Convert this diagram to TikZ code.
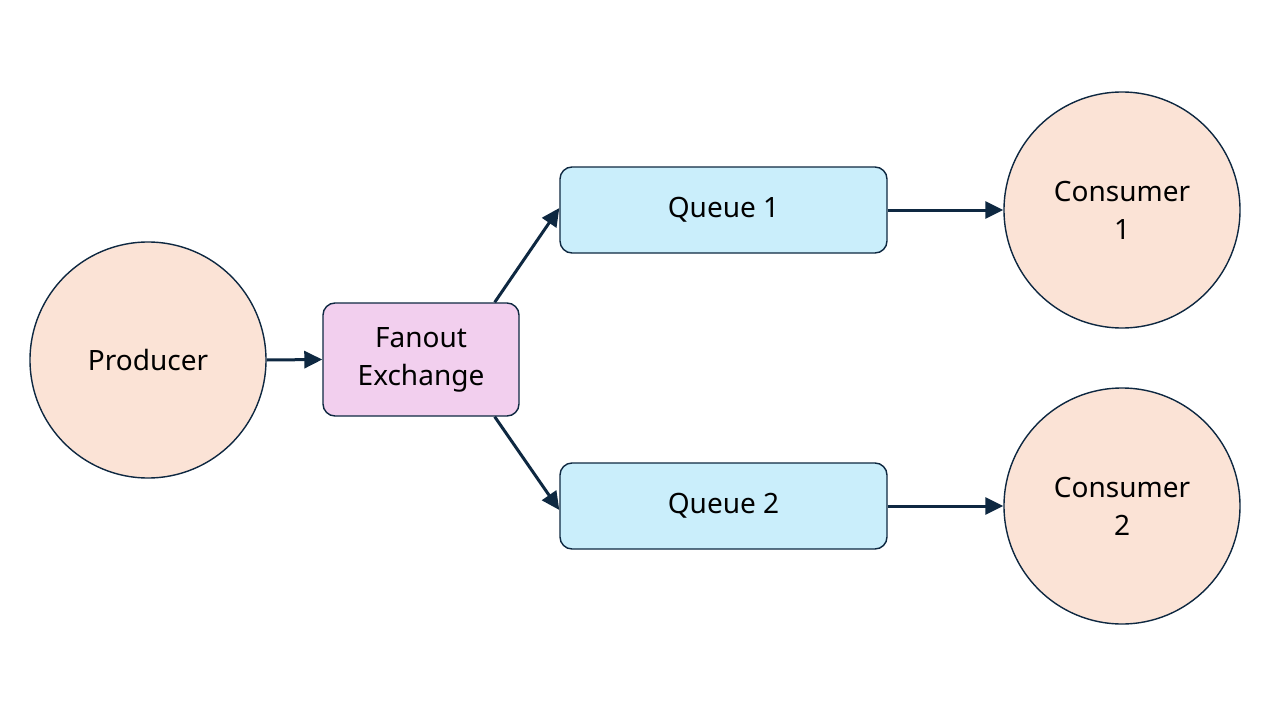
\documentclass[tikz,border=0pt]{standalone}
\usepackage{fontspec}
\setmainfont{Noto Sans}
\usetikzlibrary{arrows.meta}
\definecolor{peach}{HTML}{FBE3D6}
\definecolor{sky}{HTML}{CAEEFB}
\definecolor{pinkish}{HTML}{F2CFEE}
\definecolor{navy}{HTML}{0E2841}
\tikzset{
  circ/.style={circle, draw=navy, line width=1.4pt, fill=peach, minimum size=236pt, inner sep=0pt, align=center, font=\fontsize{28}{38}\selectfont},
  rbox/.style={rectangle, rounded corners=12pt, draw=navy, line width=1.4pt, align=center, inner sep=0pt, font=\fontsize{28}{38}\selectfont},
  conn/.style={draw=navy, line width=3pt, -{Triangle[length=18pt,width=17pt]}}
}
\begin{document}
\begin{tikzpicture}[x=1pt,y=-1pt]
\useasboundingbox (0,0) rectangle (1280,720);
\node[circ] (prod) at (148,360) {Producer};
\node[rbox, fill=pinkish, minimum width=196pt, minimum height=113pt] (fan) at (421,359.5) {Fanout\\Exchange};
\node[rbox, fill=sky, minimum width=327pt, minimum height=86pt] (q1) at (723.5,210) {Queue 1};
\node[rbox, fill=sky, minimum width=327pt, minimum height=86pt] (q2) at (723.5,506) {Queue 2};
\node[circ] (c1) at (1122,210) {Consumer\\1};
\node[circ] (c2) at (1122,506) {Consumer\\2};
\draw[conn] (prod.east) -- (fan.west);
\draw[conn] ([xshift=-25pt]fan.north east) -- ([yshift=2pt]q1.west);
\draw[conn] ([xshift=-25pt]fan.south east) -- ([yshift=-4pt]q2.west);
\draw[conn] (q1.east) -- (c1.west);
\draw[conn] (q2.east) -- (c2.west);
\end{tikzpicture}
\end{document}
